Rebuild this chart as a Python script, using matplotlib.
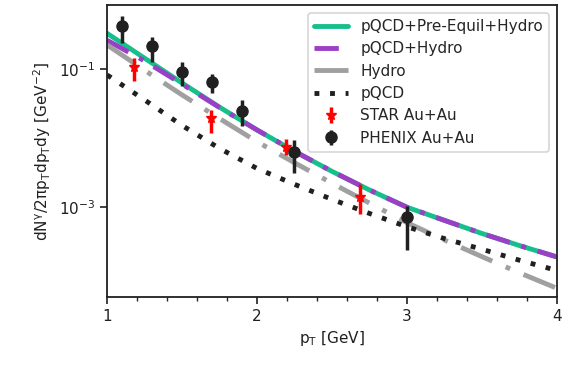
import matplotlib
matplotlib.use("Agg")
import matplotlib.pyplot as plt
import numpy as np
import seaborn as sns
from matplotlib.ticker import MultipleLocator, NullLocator, LogFormatterSciNotation, FixedLocator

sns.set_style("ticks")
plt.rcParams["font.family"] = ["DejaVu Sans"]
plt.rcParams["mathtext.default"] = "regular"

# theory curves (log10 of yield) at these pT values
pt_curve = [1.0, 1.25, 1.5, 1.75, 2.0, 2.25, 2.5, 2.75, 3.0, 3.25, 3.5, 3.75, 4.0]
log_pre_equil = [-0.48, -0.84, -1.20, -1.55, -1.88, -2.19, -2.48, -2.75, -3.00, -3.19, -3.38, -3.555, -3.72]
log_pqcd_hydro = [-0.58, -0.88, -1.215, -1.555, -1.88, -2.19, -2.48, -2.75, -3.00, -3.19, -3.38, -3.555, -3.72]
log_hydro = [-0.648, -1.015, -1.372, -1.715, -2.05, -2.355, -2.652, -2.94, -3.223, -3.475, -3.716, -3.95, -4.174]
log_pqcd = [-1.083, -1.445, -1.815, -2.148, -2.438, -2.668, -2.886, -3.09, -3.283, -3.455, -3.609, -3.768, -3.916]

# STAR Au+Au
star_pt = [1.18, 1.69, 2.195, 2.69]
star_y = [0.109, 0.0195, 7.4e-3, 1.43e-3]
star_lo = [0.068, 0.0118, 5.8e-3, 8.0e-4]
star_hi = [0.144, 0.026, 9.7e-3, 2.2e-3]

# PHENIX Au+Au
phenix_pt = [1.1, 1.3, 1.5, 1.7, 1.9, 2.245, 3.0]
phenix_y = [0.43, 0.218, 0.0923, 0.066, 0.025, 6.4e-3, 7.3e-4]
phenix_lo = [0.24, 0.129, 0.057, 0.045, 0.015, 3.1e-3, 2.4e-4]
phenix_hi = [0.59, 0.29, 0.129, 0.085, 0.036, 9.4e-3, 1.05e-3]

fig = plt.figure(figsize=(5.67, 3.68), dpi=100)
ax = fig.add_axes([0.189, 0.193, 0.793, 0.793])

green = "#17bf8c"
purple = "#9b3fc6"
gray = "#a0a0a0"
dark = "#202020"

ax.plot(pt_curve, 10 ** np.array(log_pre_equil), color=green, lw=3.5, label="pQCD+Pre-Equil+Hydro")
ax.plot(pt_curve, 10 ** np.array(log_pqcd_hydro), color=purple, lw=3.5, ls=(0, (5, 2.5, 1, 2.5)),
        label="pQCD+Hydro")
ax.plot(pt_curve, 10 ** np.array(log_hydro), color=gray, lw=3.5, ls=(0, (7, 3, 1, 3)), label="Hydro")
ax.plot(pt_curve, 10 ** np.array(log_pqcd), color=dark, lw=3.5, ls=(0, (1, 2.2)), label="pQCD")

sy = np.array(star_y)
ax.errorbar(star_pt, sy, yerr=[sy - np.array(star_lo), np.array(star_hi) - sy], fmt="*",
            color="red", ms=8, elinewidth=2.5, capsize=0, label="STAR Au+Au")
py = np.array(phenix_y)
ax.errorbar(phenix_pt, py, yerr=[py - np.array(phenix_lo), np.array(phenix_hi) - py], fmt="o",
            color=dark, ms=8, elinewidth=2.5, capsize=0, label="PHENIX Au+Au")

ax.set_yscale("log")
ax.set_xlim(1, 4)
ax.set_ylim(5e-5, 0.85)
ax.xaxis.set_major_locator(MultipleLocator(1))
ax.xaxis.set_minor_locator(MultipleLocator(0.2))
ax.yaxis.set_major_locator(FixedLocator([1e-3, 1e-1]))
ax.yaxis.set_major_formatter(LogFormatterSciNotation())
ax.yaxis.set_minor_locator(NullLocator())
ax.tick_params(labelsize=11, width=1.2, length=5, colors=dark)
ax.tick_params(which="minor", width=1.0, length=3)
for spine in ax.spines.values():
    spine.set_linewidth(1.3)
    spine.set_edgecolor(dark)

ax.set_xlabel(r"p$_\mathrm{T}$ [GeV]", fontsize=11, color=dark)
ax.set_ylabel(r"dN$^\gamma$/2$\pi$p$_\mathrm{T}$dp$_\mathrm{T}$dy [GeV$^{-2}$]", fontsize=11, color=dark)

leg = ax.legend(loc="upper right", fontsize=11, frameon=True, handlelength=2.2,
                borderaxespad=0.5, labelspacing=0.48)
leg.get_frame().set_edgecolor("#cccccc")
leg.get_frame().set_linewidth(1.2)

fig.savefig("out.png", dpi=100)
